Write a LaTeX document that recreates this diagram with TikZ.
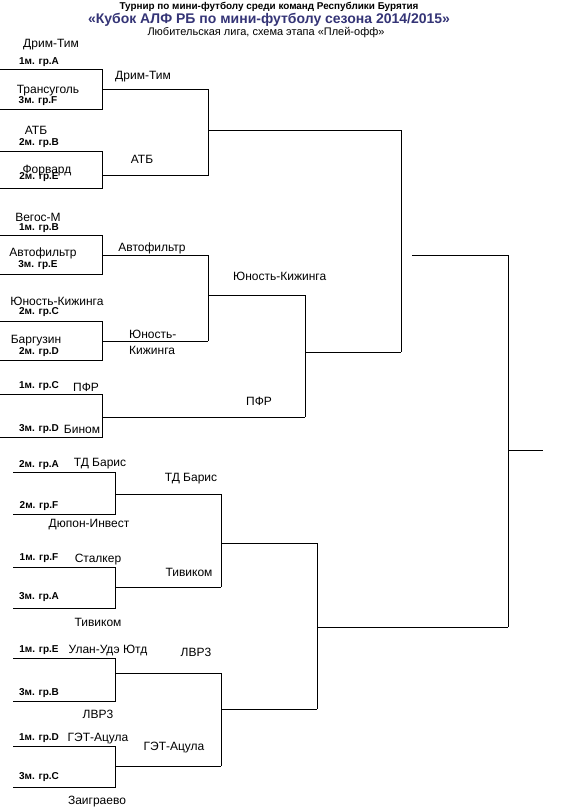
\documentclass[tikz,border=0pt]{standalone}
\usepackage{fontspec}
\setmainfont{Liberation Sans}
\definecolor{titleblue}{RGB}{52,52,118}
\begin{document}
\begin{tikzpicture}[x=1pt,y=-1pt,
  team/.style={inner sep=0pt,font=\fontsize{12}{14}\selectfont},
  grp/.style={inner sep=0pt,font=\fontsize{10}{12}\selectfont\bfseries},
  bline/.style={line width=1pt,black}]
\useasboundingbox (0,0) rectangle (566,812);
% titles
\node[inner sep=0pt,font=\fontsize{9.9}{11}\selectfont\bfseries] (t1) at (269,7) {Турнир по мини-футболу среди команд Республики Бурятия};
\node[inner sep=0pt,text=titleblue,font=\fontsize{14}{16}\selectfont\bfseries] (t2) at (269,20) {«Кубок АЛФ РБ по мини-футболу сезона 2014/2015»};
\node[inner sep=0pt,font=\fontsize{11}{13}\selectfont] (t3) at (266,33) {Любительская лига, схема этапа «Плей-офф»};
% team labels
\node[team] (n1) at (51,45) {Дрим-Тим};
\node[team] (n2) at (48,91) {Трансуголь};
\node[team] (n3) at (143,77) {Дрим-Тим};
\node[team] (n4) at (36,130) {АТБ};
\node[team] (n5) at (47,171) {Форвард};
\node[team] (n6) at (142,159) {АТБ};
\node[team] (n7) at (38,217) {Вегос-М};
\node[team] (n8) at (43,253) {Автофильтр};
\node[team] (n9) at (152,248) {Автофильтр};
\node[team,anchor=west] (n10) at (233,276) {Юность-Кижинга};
\node[team] (n11) at (57,301) {Юность-Кижинга};
\node[team] (n12) at (36,341) {Баргузин};
\node[team,anchor=west] (n13a) at (129,334) {Юность-};
\node[team,anchor=west] (n13b) at (129,350) {Кижинга};
\node[team] (n14) at (86,387) {ПФР};
\node[team] (n15) at (259,401) {ПФР};
\node[team] (n16) at (82,429) {Бином};
\node[team] (n17) at (100,464) {ТД Барис};
\node[team] (n18) at (89,525) {Дюпон-Инвест};
\node[team] (n19) at (191,479) {ТД Барис};
\node[team] (n20) at (98,560) {Сталкер};
\node[team] (n21) at (189,572) {Тивиком};
\node[team] (n22) at (98,622) {Тивиком};
\node[team] (n23) at (108,650) {Улан-Удэ Ютд};
\node[team] (n24) at (196,652) {ЛВР3};
\node[team] (n25) at (98,714) {ЛВР3};
\node[team] (n26) at (98,739) {ГЭТ-Ацула};
\node[team] (n27) at (174,748) {ГЭТ-Ацула};
\node[team] (n28) at (97,802) {Заиграево};
% group labels
\node[grp] (g1) at (39,62) {1м. гр.A};
\node[grp] (g2) at (38,101) {3м. гр.F};
\node[grp] (g3) at (39,143) {2м. гр.B};
\node[grp] (g4) at (39,177) {2м. гр.E};
\node[grp] (g5) at (39,228) {1м. гр.B};
\node[grp] (g6) at (38,265) {3м. гр.E};
\node[grp] (g7) at (39,312) {2м. гр.C};
\node[grp] (g8) at (39,352) {2м. гр.D};
\node[grp] (g9) at (39,386) {1м. гр.C};
\node[grp] (g10) at (39,429) {3м. гр.D};
\node[grp] (g11) at (39,465) {2м. гр.A};
\node[grp] (g12) at (39,506) {2м. гр.F};
\node[grp] (g13) at (39,558) {1м. гр.F};
\node[grp] (g14) at (39,597) {3м. гр.A};
\node[grp] (g15) at (39,650) {1м. гр.E};
\node[grp] (g16) at (39,693) {3м. гр.B};
\node[grp] (g17) at (39,738) {1м. гр.D};
\node[grp] (g18) at (39,777) {3м. гр.C};
% round 1 brackets (top)
\draw[bline] (0,69) -- (102,69) -- (102,109) -- (0,109);
\draw[bline] (102,89) -- (208,89);
\draw[bline] (0,151) -- (102,151) -- (102,188) -- (0,188);
\draw[bline] (102,175.5) -- (208,175.5);
\draw[bline] (0,235) -- (102,235) -- (102,274) -- (0,274);
\draw[bline] (102,255) -- (208,255);
\draw[bline] (0,321) -- (102,321) -- (102,360) -- (0,360);
\draw[bline] (102,341) -- (208,341);
\draw[bline] (0,394) -- (102,394) -- (102,437) -- (0,437);
\draw[bline] (102,417) -- (305,417);
% round 2 (top)
\draw[bline] (208,89) -- (208,175.5);
\draw[bline] (208,130) -- (401,130);
\draw[bline] (208,255) -- (208,341);
\draw[bline] (208,295) -- (305,295);
\draw[bline] (305,295) -- (305,417);
\draw[bline] (305,352) -- (401,352);
\draw[bline] (401,130) -- (401,352);
% final
\draw[bline] (412,255) -- (508,255) -- (508,627);
\draw[bline] (508,450) -- (543,450);
% bottom half
\draw[bline] (13,472.5) -- (115,472.5) -- (115,514) -- (13,514);
\draw[bline] (115,494) -- (221,494);
\draw[bline] (13,567) -- (115,567) -- (115,608) -- (13,608);
\draw[bline] (115,587) -- (221,587);
\draw[bline] (221,494) -- (221,587);
\draw[bline] (221,543) -- (317,543);
\draw[bline] (13,658) -- (115,658) -- (115,701) -- (13,701);
\draw[bline] (115,673) -- (221,673);
\draw[bline] (13,746) -- (115,746) -- (115,787) -- (13,787);
\draw[bline] (115,766) -- (221,766);
\draw[bline] (221,673) -- (221,766);
\draw[bline] (221,709) -- (317,709);
\draw[bline] (317,543) -- (317,709);
\draw[bline] (317,627) -- (508,627);
\end{tikzpicture}
\end{document}
